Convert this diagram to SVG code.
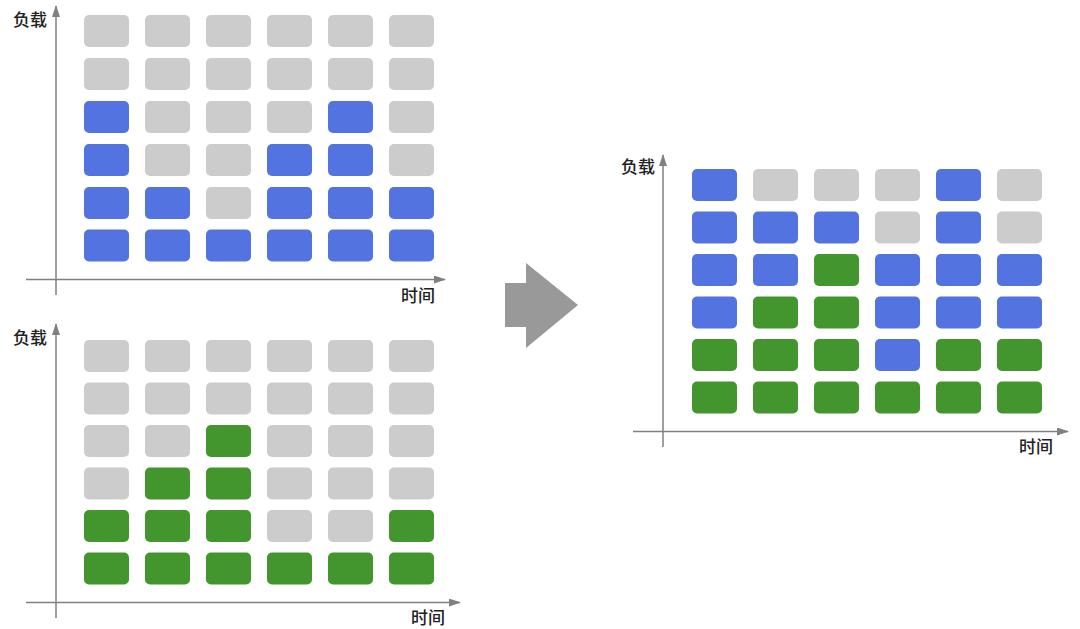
<svg xmlns="http://www.w3.org/2000/svg" width="1080" height="629" viewBox="0 0 1080 629">
<style>
.g{fill:#cccccc}.b{fill:#5273e0}.n{fill:#43962d}
.ax{stroke:#808080;stroke-width:1.5;fill:none}
.lb{font-family:"Noto Sans CJK SC","Liberation Sans",sans-serif;font-size:17px;fill:#222;font-weight:500}
</style>
<defs>
<marker id="ah" viewBox="0 0 12 8" refX="11" refY="4" markerWidth="12" markerHeight="8" markerUnits="userSpaceOnUse" orient="auto"><path d="M0,0 L12,4 L0,8 Z" fill="#808080"/></marker>
<rect id="c" width="45" height="32" rx="5"/>
</defs>
<rect width="1080" height="629" fill="#fff"/>
<g id="connectors">
<line class="ax" x1="56" y1="295" x2="56" y2="6" marker-end="url(#ah)"/>
<line class="ax" x1="26" y1="279.5" x2="445" y2="279.5" marker-end="url(#ah)"/>
<line class="ax" x1="56" y1="618" x2="56" y2="324" marker-end="url(#ah)"/>
<line class="ax" x1="26" y1="602.5" x2="460" y2="602.5" marker-end="url(#ah)"/>
<line class="ax" x1="663" y1="447" x2="663" y2="155" marker-end="url(#ah)"/>
<line class="ax" x1="633" y1="431.5" x2="1068" y2="431.5" marker-end="url(#ah)"/>
<polygon id="bigArrow" points="505,283 526,283 526,263 578,305 526,348 526,327 505,327" fill="#999999"/>
</g>
<g id="chart-top">
<text class="lb" x="13" y="26">负载</text>
<text class="lb" x="401" y="302">时间</text>
<use href="#c" class="g" x="84" y="15"/><use href="#c" class="g" x="145" y="15"/><use href="#c" class="g" x="206" y="15"/><use href="#c" class="g" x="267" y="15"/><use href="#c" class="g" x="328" y="15"/><use href="#c" class="g" x="389" y="15"/>
<use href="#c" class="g" x="84" y="58"/><use href="#c" class="g" x="145" y="58"/><use href="#c" class="g" x="206" y="58"/><use href="#c" class="g" x="267" y="58"/><use href="#c" class="g" x="328" y="58"/><use href="#c" class="g" x="389" y="58"/>
<use href="#c" class="b" x="84" y="101"/><use href="#c" class="g" x="145" y="101"/><use href="#c" class="g" x="206" y="101"/><use href="#c" class="g" x="267" y="101"/><use href="#c" class="b" x="328" y="101"/><use href="#c" class="g" x="389" y="101"/>
<use href="#c" class="b" x="84" y="144"/><use href="#c" class="g" x="145" y="144"/><use href="#c" class="g" x="206" y="144"/><use href="#c" class="b" x="267" y="144"/><use href="#c" class="b" x="328" y="144"/><use href="#c" class="g" x="389" y="144"/>
<use href="#c" class="b" x="84" y="187"/><use href="#c" class="b" x="145" y="187"/><use href="#c" class="g" x="206" y="187"/><use href="#c" class="b" x="267" y="187"/><use href="#c" class="b" x="328" y="187"/><use href="#c" class="b" x="389" y="187"/>
<use href="#c" class="b" x="84" y="229.5"/><use href="#c" class="b" x="145" y="229.5"/><use href="#c" class="b" x="206" y="229.5"/><use href="#c" class="b" x="267" y="229.5"/><use href="#c" class="b" x="328" y="229.5"/><use href="#c" class="b" x="389" y="229.5"/>
</g>
<g id="chart-bottom">
<text class="lb" x="13" y="344">负载</text>
<text class="lb" x="411" y="624">时间</text>
<use href="#c" class="g" x="84" y="340"/><use href="#c" class="g" x="145" y="340"/><use href="#c" class="g" x="206" y="340"/><use href="#c" class="g" x="267" y="340"/><use href="#c" class="g" x="328" y="340"/><use href="#c" class="g" x="389" y="340"/>
<use href="#c" class="g" x="84" y="382.5"/><use href="#c" class="g" x="145" y="382.5"/><use href="#c" class="g" x="206" y="382.5"/><use href="#c" class="g" x="267" y="382.5"/><use href="#c" class="g" x="328" y="382.5"/><use href="#c" class="g" x="389" y="382.5"/>
<use href="#c" class="g" x="84" y="425"/><use href="#c" class="g" x="145" y="425"/><use href="#c" class="n" x="206" y="425"/><use href="#c" class="g" x="267" y="425"/><use href="#c" class="g" x="328" y="425"/><use href="#c" class="g" x="389" y="425"/>
<use href="#c" class="g" x="84" y="467.5"/><use href="#c" class="n" x="145" y="467.5"/><use href="#c" class="n" x="206" y="467.5"/><use href="#c" class="g" x="267" y="467.5"/><use href="#c" class="g" x="328" y="467.5"/><use href="#c" class="g" x="389" y="467.5"/>
<use href="#c" class="n" x="84" y="510"/><use href="#c" class="n" x="145" y="510"/><use href="#c" class="n" x="206" y="510"/><use href="#c" class="g" x="267" y="510"/><use href="#c" class="g" x="328" y="510"/><use href="#c" class="n" x="389" y="510"/>
<use href="#c" class="n" x="84" y="552.5"/><use href="#c" class="n" x="145" y="552.5"/><use href="#c" class="n" x="206" y="552.5"/><use href="#c" class="n" x="267" y="552.5"/><use href="#c" class="n" x="328" y="552.5"/><use href="#c" class="n" x="389" y="552.5"/>
</g>
<g id="chart-right">
<text class="lb" x="621" y="173">负载</text>
<text class="lb" x="1019" y="453">时间</text>
<use href="#c" class="b" x="692" y="169"/><use href="#c" class="g" x="753" y="169"/><use href="#c" class="g" x="814" y="169"/><use href="#c" class="g" x="875" y="169"/><use href="#c" class="b" x="936" y="169"/><use href="#c" class="g" x="997" y="169"/>
<use href="#c" class="b" x="692" y="211.5"/><use href="#c" class="b" x="753" y="211.5"/><use href="#c" class="b" x="814" y="211.5"/><use href="#c" class="g" x="875" y="211.5"/><use href="#c" class="b" x="936" y="211.5"/><use href="#c" class="g" x="997" y="211.5"/>
<use href="#c" class="b" x="692" y="254"/><use href="#c" class="b" x="753" y="254"/><use href="#c" class="n" x="814" y="254"/><use href="#c" class="b" x="875" y="254"/><use href="#c" class="b" x="936" y="254"/><use href="#c" class="b" x="997" y="254"/>
<use href="#c" class="b" x="692" y="296.5"/><use href="#c" class="n" x="753" y="296.5"/><use href="#c" class="n" x="814" y="296.5"/><use href="#c" class="b" x="875" y="296.5"/><use href="#c" class="b" x="936" y="296.5"/><use href="#c" class="b" x="997" y="296.5"/>
<use href="#c" class="n" x="692" y="339"/><use href="#c" class="n" x="753" y="339"/><use href="#c" class="n" x="814" y="339"/><use href="#c" class="b" x="875" y="339"/><use href="#c" class="n" x="936" y="339"/><use href="#c" class="n" x="997" y="339"/>
<use href="#c" class="n" x="692" y="381.5"/><use href="#c" class="n" x="753" y="381.5"/><use href="#c" class="n" x="814" y="381.5"/><use href="#c" class="n" x="875" y="381.5"/><use href="#c" class="n" x="936" y="381.5"/><use href="#c" class="n" x="997" y="381.5"/>
</g>
</svg>
